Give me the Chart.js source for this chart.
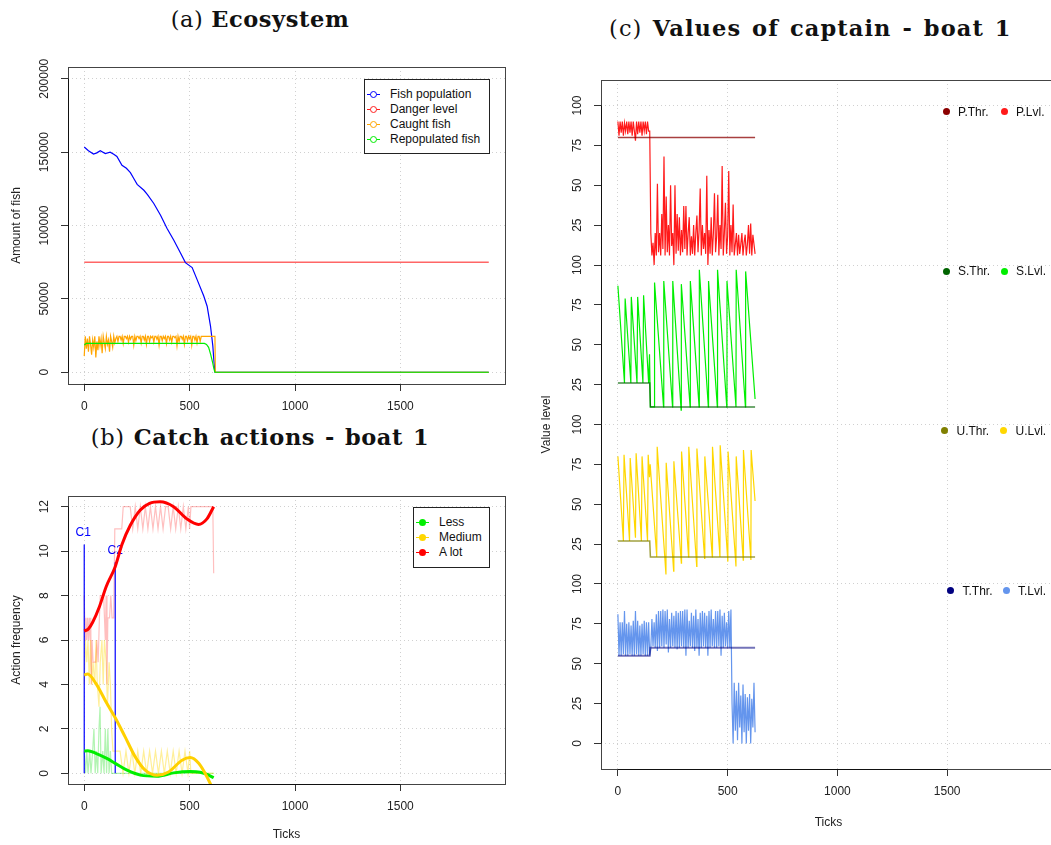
<!DOCTYPE html>
<html>
<head>
<meta charset="utf-8">
<script src="https://cdn.jsdelivr.net/npm/chart.js@4.4.0/dist/chart.umd.min.js"></script>
<style>
  html, body { margin: 0; padding: 0; width: 1051px; height: 845px; overflow: hidden; background: #fff; }
  canvas { position: absolute; }
  .ttl { position: absolute; font-family: 'DejaVu Serif', serif; font-size: 22.5px; line-height: 22px; white-space: nowrap; text-align: center; color: #111; letter-spacing: 0.6px; }
  .lg { position: absolute; font-family: 'Liberation Sans', Arial, sans-serif; font-size: 12px; color: #111; white-space: nowrap; height: 14px; line-height: 14px; }
  .box { position: absolute; border: 1px solid #222; background: #fff; }
  .dot { position: absolute; border-radius: 50%; box-sizing: border-box; }
  .seg { position: absolute; height: 1px; }
</style>
</head>
<body>
<div class="ttl" style="left:60px; top:8px; width:400px">(a) <b>Ecosystem</b></div>
<div class="ttl" style="left:60px; top:426px; width:400px; word-spacing:1.5px">(b) <b>Catch actions - boat 1</b></div>
<div class="ttl" style="left:609px; top:17px; width:400px; letter-spacing:1.1px; word-spacing:2px">(c) <b>Values of captain - boat 1</b></div>

<canvas id="eco" width="530" height="370" style="left:0; top:50px"></canvas>
<canvas id="catch" width="530" height="390" style="left:0; top:455px"></canvas>
<canvas id="capt" width="540" height="795" style="left:530px; top:50px"></canvas>

<script>
// ---- shared x axis (simulation ticks)
const xTicks = [0, 500, 1000, 1500];

// ---- (a) Ecosystem
const fishTicks = [0, 20, 44, 60, 76, 100, 123, 140, 155, 179, 200, 219, 235, 251, 283, 300, 330, 362, 393, 425, 456, 480, 512, 535, 567, 583, 599, 610, 615, 620, 1919];
const fishPop = [153500, 151000, 148700, 149500, 151000, 149000, 150000, 148500, 147000, 141000, 139000, 136000, 132000, 128000, 124000, 121000, 115000, 107000, 98000, 90000, 81400, 74700, 71300, 63300, 52000, 45000, 31500, 18000, 8000, 0, 0];
const dangerTicks = [0, 1919];
const dangerLvl = [75000, 75000];
// caught fish, one value every 5 ticks from 0 to 620
const caughtFish = [
  11000, 24500, 16000, 23000, 14000, 24500, 19000, 12000, 22000, 17000, 24500, 10000, 21000, 15000, 24500, 18000,
  23000, 13000, 24500, 20000, 16000, 24500, 19000, 22000, 14000, 24500, 21000, 17000, 24500, 20000, 23000,
  24500, 21000, 24500, 24500, 22000, 24500, 19500, 24500, 24500, 23000,
  24500, 20500, 24500, 22500, 24500, 24500, 18500, 24500, 21500, 24500,
  24500, 23000, 24500, 20000, 24500, 24500, 22000, 24500, 19000, 24500,
  24500, 21000, 24500, 23500, 24500, 20500, 24500, 24500, 22500, 24500,
  18500, 24500, 24500, 21500, 24500, 23000, 24500, 19500, 24500, 24500,
  22000, 24500, 20500, 24500, 24500, 23500, 24500, 18000, 24500, 21000,
  24500, 24500, 22500, 24500, 19000, 24500, 24500, 21500, 24500, 23000,
  24500, 18500, 24500, 24500, 22000, 24500, 20000, 24500, 24500, 21000,
  24500, 24500, 24500, 24500, 24500, 24500, 24500, 24500, 24500, 24500, 24500, 24500, 24500, 24500
];
const caughtEndTicks = [622, 1919];
const caughtEnd = [0, 0];
const repopTicks = [0, 10, 20, 570, 580, 590, 600, 610, 615, 620, 1919];
const repopFish = [18500, 19700, 19700, 19700, 19000, 17000, 12000, 6000, 2500, 0, 0];
const ecoYTicks = [0, 50000, 100000, 150000, 200000];
const ecoNames = ['Fish population', 'Danger level', 'Caught fish', 'Repopulated fish'];
const ecoColors = ['#0000ff', '#ff2020', '#ffa500', '#00ee00'];

// ---- (b) Catch actions
const alotTicks = [0, 4, 8, 12, 16, 20, 24, 28, 31, 33, 37, 42, 55, 60, 66, 72, 76, 92, 100, 104, 108, 112, 120, 126, 132, 140, 145, 178, 185, 218, 230, 242, 254, 266, 278, 290, 302, 314, 326, 338, 350, 362, 374, 386, 398, 410, 422, 434, 446, 458, 470, 482, 494, 500, 506, 610, 614];
const alotRaw = [8, 6, 7, 6, 7, 6, 7, 6, 7, 4, 6, 5, 5, 6, 5, 7, 8, 8, 6, 8, 4, 7, 7, 8, 7, 7, 11, 11, 12, 12, 11, 12, 11, 12, 11, 12, 11, 12, 11, 12, 11, 12, 11, 12, 12, 11, 12, 11, 12, 11, 12, 11, 12, 11, 12, 12, 9];
const mediumTicks = [0, 6, 12, 18, 24, 30, 36, 42, 50, 56, 62, 70, 76, 84, 90, 96, 104, 110, 118, 124, 130, 136, 146, 170, 184, 198, 212, 226, 240, 254, 268, 282, 296, 310, 324, 338, 352, 366, 380, 394, 408, 422, 436, 450, 464, 478, 492, 500, 506, 614];
const mediumRaw = [4, 6, 5, 6, 4, 6, 4, 5, 4, 6, 4, 3, 5, 6, 4, 6, 5, 3, 5, 4, 2, 1, 1, 1, 0, 1, 0, 1, 0, 1, 0, 1, 0, 1, 0, 1, 0, 1, 0, 1, 0, 1, 0, 1, 0, 1, 0, 1, 0, 0];
const lessTicks = [0, 6, 12, 18, 26, 32, 40, 46, 52, 58, 64, 70, 75, 80, 88, 94, 100, 106, 112, 118, 124, 130, 614];
const lessRaw = [1, 0, 1, 0, 1, 0, 1, 2, 0, 1, 0, 2, 3, 0, 1, 0, 2, 0, 2, 0, 1, 0, 0];
const alotFitTicks = [0, 20, 40, 72, 104, 147, 179, 218, 266, 310, 360, 424, 487, 542, 582, 614];
const alotFit = [6.4, 6.5, 6.8, 7.5, 8.4, 9.3, 10.3, 11.15, 11.85, 12.15, 12.22, 12.0, 11.45, 11.2, 11.45, 12.0];
const mediumFitTicks = [0, 16, 55, 107, 147, 194, 242, 289, 345, 400, 464, 503, 543, 582, 612];
const mediumFit = [4.42, 4.47, 4.05, 3.15, 2.5, 1.64, 0.74, 0.14, -0.09, 0.06, 0.59, 0.71, 0.45, -0.15, -0.75];
const lessFitTicks = [0, 17, 55, 107, 147, 203, 266, 345, 424, 503, 550, 590, 614];
const lessFit = [1.0, 1.02, 0.9, 0.67, 0.45, 0.14, -0.08, -0.13, 0.02, 0.08, 0.05, -0.08, -0.2];
const markNames = ['C1', 'C2'];
const markTicks = [0, 147];
const markTops = [10.3, 9.5];
const actYTicks = [0, 2, 4, 6, 8, 10, 12];
const actNames = ['Less', 'Medium', 'A lot'];
const actColors = ['#00ee00', '#ffd700', '#ff0000'];

// ---- (c) Values of captain (4 stacked bands of 0..100)
const levelTicks = [0, 25, 50, 75, 100];
const bandNames = ['T', 'U', 'S', 'P'];          // bottom to top
// P: one value every 5 ticks from 0 to 625
const pLvl = [
  90, 81, 90, 83, 90, 81, 89, 84, 90, 82, 90, 83, 90, 81, 90, 84, 78, 90, 82, 90,
  83, 90, 81, 90, 84, 90, 82, 90, 84, 84,
  20, 6, 14, 0, 20, 6, 51, 8, 20, 6, 32, 10, 68, 6, 43, 8, 25, 6, 50, 12,
  20, 0, 50, 7, 32, 9, 30, 6, 22, 8, 37, 10, 37, 6, 20, 30, 6, 18, 7, 25,
  6, 20, 31, 8, 22, 48, 6, 25, 10, 20, 7, 56, 0, 22, 7, 30, 6, 20, 45, 8,
  18, 44, 6, 25, 10, 62, 6, 20, 39, 7, 18, 59, 6, 25, 8, 38, 6, 13, 20, 6,
  19, 7, 13, 20, 6, 14, 19, 6, 13, 25, 7, 26, 6, 19, 13, 7
];
const pThrTicks = [0, 625];
const pThr = [80, 80];
const sLvlTicks = [0, 30, 33, 59, 61, 87, 90, 114, 117, 140, 144, 148, 166, 167, 208, 209, 249, 250, 288, 289, 329, 330, 370, 371, 412, 413, 453, 454, 496, 497, 538, 539, 581, 582, 625];
const sLvl = [87, 26, 79, 26, 80, 26, 80, 26, 81, 26, 44, 11, 11, 89, 11, 90, 11, 90, 9, 88, 11, 90, 11, 97, 11, 90, 11, 97, 11, 90, 11, 97, 11, 96, 16];
const sThrTicks = [0, 145, 148, 625];
const sThr = [26, 26, 11, 11];
const uLvlTicks = [0, 25, 28, 53, 56, 80, 83, 107, 110, 135, 138, 144, 147, 177, 179, 219, 220, 254, 255, 289, 290, 322, 323, 359, 360, 395, 396, 430, 431, 465, 466, 501, 502, 538, 539, 571, 572, 606, 607, 625];
const uLvl = [80, 27, 81, 27, 79, 29, 82, 27, 80, 27, 81, 67, 75, 17, 86, 6, 76, 8, 77, 13, 83, 17, 86, 11, 85, 16, 80, 17, 86, 17, 87, 14, 83, 11, 80, 15, 84, 15, 84, 52];
const uThrTicks = [0, 145, 148, 625];
const uThr = [27, 27, 17, 17];
// T: one value every 5 ticks from 0 to 625
const tLvl = [
  81, 55, 76, 55, 76, 56, 83, 55, 75, 55, 76, 56, 74, 55, 77, 55, 83, 56, 77, 55,
  74, 55, 75, 56, 77, 55, 76, 55, 76, 55,
  60, 78, 61, 76, 60, 81, 58, 83, 60, 83, 61, 84, 60, 83, 62, 84, 57, 78, 60, 82,
  61, 80, 60, 83, 59, 82, 60, 83, 61, 83, 60, 84, 55, 84, 60, 77, 61, 82, 60, 80,
  58, 84, 60, 78, 55, 82, 60, 83, 61, 82, 60, 80, 55, 83, 60, 84, 61, 78, 60, 83,
  60, 83, 61, 84, 55, 80, 60, 82, 61, 76, 60, 83, 60, 84,
  25, 0, 38, 8, 33, 2, 38, 10, 30, 0, 37, 7, 31, 0, 29, 8, 31, 0, 28, 10, 38, 7
];
const tThrTicks = [0, 145, 148, 625];
const tThr = [55, 55, 60, 60];
const thrColors = {P: '#8b0000', S: '#006400', U: '#808000', T: '#000080'};
const lvlColors = {P: '#ff1a1a', S: '#00ee00', U: '#ffd700', T: '#6495ed'};

// ---- helpers
const pts = (xs, ys) => ys.map((y, i) => ({x: xs[i], y}));
const every5 = arr => arr.map((y, i) => ({x: i * 5, y}));
const inBand = (data, band) => data.map(p => ({x: p.x, y: p.y + 100 * bandNames.indexOf(band)}));

Chart.defaults.font.family = "'Liberation Sans', Arial, sans-serif";
Chart.defaults.font.size = 12;
Chart.defaults.color = '#222';
Chart.defaults.animation = false;
Chart.defaults.plugins.legend.display = false;
Chart.defaults.plugins.tooltip.enabled = false;
Chart.defaults.elements.point.radius = 0;
Chart.defaults.elements.line.borderWidth = 1.2;
Chart.defaults.datasets.line.fill = false;

// plot box + R style axis lines
const rBox = {
  id: 'rBox',
  afterDraw(chart) {
    const {ctx, chartArea: a, scales} = chart;
    const L = Math.round(a.left) + 0.5, T = Math.round(a.top) + 0.5;
    const R = Math.round(a.right) + 0.5, B = Math.round(a.bottom) + 0.5;
    ctx.save();
    ctx.strokeStyle = '#444';
    ctx.lineWidth = 1;
    ctx.strokeRect(L, T, R - L, B - T);
    const xs = scales.x, ys = scales.y;
    ctx.strokeStyle = '#111';
    ctx.beginPath();
    ctx.moveTo(xs.getPixelForValue(xs.ticks[0].value), B);
    ctx.lineTo(xs.getPixelForValue(xs.ticks[xs.ticks.length - 1].value), B);
    ctx.moveTo(L, ys.getPixelForValue(ys.ticks[0].value));
    ctx.lineTo(L, ys.getPixelForValue(ys.ticks[ys.ticks.length - 1].value));
    ctx.stroke();
    ctx.restore();
  }
};

// C1 / C2 labels over the change lines
const markLabels = {
  id: 'markLabels',
  beforeDatasetsDraw(chart) {
    const {ctx, scales: {x, y}} = chart;
    ctx.save();
    ctx.fillStyle = '#0000ff';
    ctx.font = "12px 'Liberation Sans', Arial, sans-serif";
    ctx.textAlign = 'center';
    ctx.textBaseline = 'middle';
    markNames.forEach((n, i) => {
      ctx.fillText(n, x.getPixelForValue(markTicks[i]) - (i === 0 ? 1 : 0), y.getPixelForValue(markTops[i]) - 11.5);
    });
    ctx.restore();
  }
};

function xScale(height, title, titlePad) {
  return {
    type: 'linear', min: -77, max: 1996, bounds: 'data',
    afterBuildTicks: s => { s.ticks = xTicks.map(v => ({value: v})); },
    afterFit: s => { s.height = height; },
    grid: { color: '#d0d0d0', lineWidth: 1, tickColor: '#333', tickLength: 7, tickWidth: 1, tickBorderDash: [] },
    border: { display: false, dash: [1, 3] },
    ticks: { padding: 8.8, maxRotation: 0, minRotation: 0, autoSkip: false, callback: v => String(v) },
    title: { display: !!title, text: title || '', padding: {top: 0, bottom: titlePad || 0} }
  };
}

function yScale(width, ticks, min, max, pad, title, label, gridColor) {
  return {
    type: 'linear', min, max, bounds: 'data',
    afterBuildTicks: s => { s.ticks = ticks.map(v => ({value: v})); },
    afterFit: s => { s.width = width; },
    grid: { color: gridColor || '#d0d0d0', lineWidth: 1, tickColor: '#333', tickLength: 7, tickWidth: 1, tickBorderDash: [] },
    border: { display: false, dash: [1, 3] },
    ticks: { padding: pad, minRotation: 90, maxRotation: 90, crossAlign: 'center', autoSkip: false, callback: label || (v => String(v)) },
    title: { display: true, text: title, padding: {top: 9.5, bottom: 0} }
  };
}

function caughtTicksAll() {
  return caughtFish.map((_, i) => i * 5).concat(caughtEndTicks);
}

// ---- (a)
new Chart(document.getElementById('eco'), {
  type: 'line',
  data: {
    datasets: [
      { label: ecoNames[3], data: pts(repopTicks, repopFish), borderColor: ecoColors[3] },
      { label: ecoNames[2], data: pts(caughtTicksAll(), caughtFish.concat(caughtEnd)), borderColor: ecoColors[2] },
      { label: ecoNames[0], data: pts(fishTicks, fishPop), borderColor: ecoColors[0] },
      { label: ecoNames[1], data: pts(dangerTicks, dangerLvl), borderColor: 'rgba(255,0,0,0.6)', borderWidth: 1.6 }
    ]
  },
  options: {
    responsive: false, devicePixelRatio: 1,
    layout: { padding: {top: 17, right: 25, left: 0, bottom: 0} },
    scales: {
      x: xScale(36),
      y: yScale(68, ecoYTicks, -8000, 208000, -4, 'Amount of fish')
    }
  },
  plugins: [rBox]
});

// ---- (b)
new Chart(document.getElementById('catch'), {
  type: 'line',
  data: {
    datasets: [
      { label: 'A lot fit', data: pts(alotFitTicks, alotFit), borderColor: '#ff0000', borderWidth: 3, cubicInterpolationMode: 'monotone' },
      { label: 'Medium fit', data: pts(mediumFitTicks, mediumFit), borderColor: '#ffd000', borderWidth: 3, cubicInterpolationMode: 'monotone' },
      { label: 'Less fit', data: pts(lessFitTicks, lessFit), borderColor: '#00ee00', borderWidth: 3, cubicInterpolationMode: 'monotone' },
      { label: markNames[0], data: pts([markTicks[0], markTicks[0]], [0, markTops[0]]), borderColor: '#0000ff' },
      { label: markNames[1], data: pts([markTicks[1], markTicks[1]], [0, markTops[1]]), borderColor: '#0000ff' },
      { label: 'A lot', data: pts(alotTicks, alotRaw), borderColor: 'rgba(255,0,0,0.25)' },
      { label: 'Medium', data: pts(mediumTicks, mediumRaw), borderColor: 'rgba(255,215,0,0.4)' },
      { label: 'Less', data: pts(lessTicks, lessRaw), borderColor: 'rgba(0,220,0,0.3)' }
    ]
  },
  options: {
    responsive: false, devicePixelRatio: 1,
    layout: { padding: {top: 41, right: 25, left: 0, bottom: 0} },
    scales: {
      x: xScale(61, 'Ticks', 2.8),
      y: yScale(68, actYTicks, -0.48, 12.48, 9.3, 'Action frequency')
    }
  },
  plugins: [rBox, markLabels]
});

// ---- (c)
const captYTicks = [];
bandNames.forEach((b, i) => levelTicks.forEach(v => { if (i === 0 || v > 0) captYTicks.push(v + 100 * i); }));
new Chart(document.getElementById('capt'), {
  type: 'line',
  data: {
    datasets: [
      { label: 'P.Thr.', data: inBand(pts(pThrTicks, pThr), 'P'), borderColor: 'rgba(139,0,0,0.75)', borderWidth: 1.5 },
      { label: 'S.Thr.', data: inBand(pts(sThrTicks, sThr), 'S'), borderColor: 'rgba(0,100,0,0.75)', borderWidth: 1.5 },
      { label: 'U.Thr.', data: inBand(pts(uThrTicks, uThr), 'U'), borderColor: 'rgba(128,128,0,0.75)', borderWidth: 1.5 },
      { label: 'T.Thr.', data: inBand(pts(tThrTicks, tThr), 'T'), borderColor: 'rgba(0,0,128,0.55)', borderWidth: 2 },
      { label: 'P.Lvl.', data: inBand(every5(pLvl), 'P'), borderColor: lvlColors.P },
      { label: 'S.Lvl.', data: inBand(pts(sLvlTicks, sLvl), 'S'), borderColor: lvlColors.S },
      { label: 'U.Lvl.', data: inBand(pts(uLvlTicks, uLvl), 'U'), borderColor: lvlColors.U },
      { label: 'T.Lvl.', data: inBand(every5(tLvl), 'T'), borderColor: lvlColors.T }
    ]
  },
  options: {
    responsive: false, devicePixelRatio: 1,
    layout: { padding: {top: 30, right: 14, left: 0, bottom: 0} },
    scales: {
      x: xScale(76, 'Ticks', 14.8),
      y: yScale(71, captYTicks, -16, 416, 6, 'Value level',
        v => v === 0 ? '0' : (v % 100 === 0 ? '100' : String(v % 100)),
        c => (c.tick && c.tick.value % 100 === 0) ? '#d0d0d0' : 'rgba(0,0,0,0)')
    }
  },
  plugins: [rBox]
});

// ---- legends (HTML text)
function el(cls, css, text) {
  const d = document.createElement('div');
  d.className = cls;
  Object.assign(d.style, css);
  if (text) d.textContent = text;
  document.body.appendChild(d);
  return d;
}
function boxLegend(left, top, w, h, names, colors, filled) {
  el('box', {left: left + 'px', top: top + 'px', width: w + 'px', height: h + 'px'});
  names.forEach((n, i) => {
    const cy = top + 15 + i * 15;
    el('seg', {left: (left + 3) + 'px', top: (cy - 0.5) + 'px', width: '13px', background: colors[i]});
    el('dot', {left: (left + 6) + 'px', top: (cy - 3.5) + 'px', width: '7px', height: '7px',
      background: filled ? colors[i] : '#fff', border: filled ? 'none' : '1.3px solid ' + colors[i]});
    el('lg', {left: (left + 26) + 'px', top: (cy - 7) + 'px'}, n);
  });
}
boxLegend(364, 79, 124, 73, ecoNames, ecoColors, false);
boxLegend(413, 507, 75, 59, actNames, actColors, true);

const bandLegendY = {P: 111.7, S: 271, U: 430.7, T: 590.7};
const bandLegendX = {P: [946, 1004], S: [946, 1004], U: [944.5, 1003.5], T: [950.5, 1006]};
bandNames.forEach(b => {
  const y = bandLegendY[b];
  [[b + '.Thr.', thrColors[b]], [b + '.Lvl.', lvlColors[b]]].forEach(([n, c], j) => {
    const x = bandLegendX[b][j];
    el('dot', {left: (x - 3.5) + 'px', top: (y - 3.5) + 'px', width: '7px', height: '7px', background: c});
    el('lg', {left: (x + 12) + 'px', top: (y - 7) + 'px'}, n);
  });
});
</script>
</body>
</html>
